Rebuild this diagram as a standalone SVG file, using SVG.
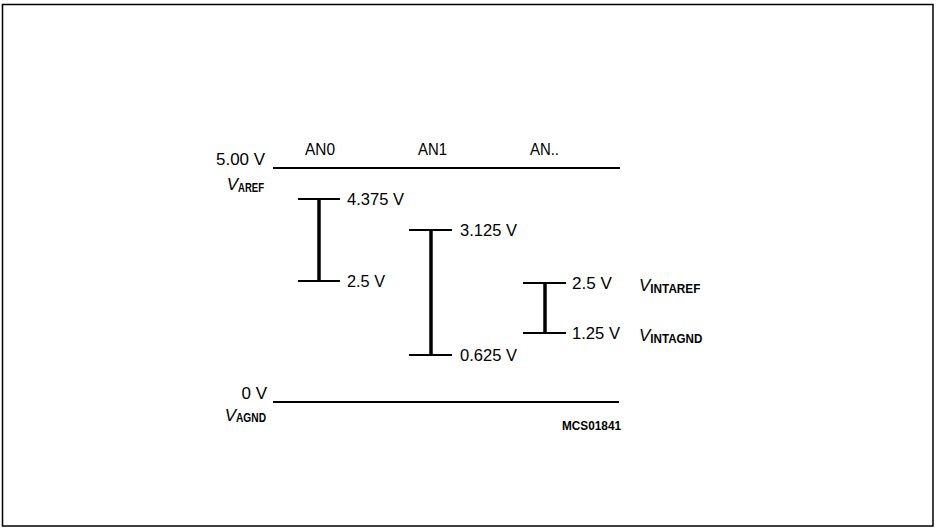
<svg xmlns="http://www.w3.org/2000/svg" width="936" height="530" viewBox="0 0 936 530">
<style>
text{font-family:"Liberation Sans",Arial,sans-serif;fill:#000}
.t{font-size:17px}
.v{font-size:17px;font-style:italic}
.s{font-size:13px;font-weight:bold;font-style:normal}
.id{font-size:13px;font-weight:bold}
.rail{stroke:#000;stroke-width:2;fill:none}
.tick{stroke:#000;stroke-width:2;fill:none}
.bar{stroke:#000;stroke-width:3.5;fill:none}
</style>
<rect x="2.5" y="4.5" width="930.5" height="521.5" fill="#fff" stroke="#000" stroke-width="1.5"/>
<g id="connectors">
<line class="rail" x1="273" y1="168" x2="620" y2="168"/>
<line class="rail" x1="273" y1="402" x2="619" y2="402"/>
</g>
<g id="vref-labels">
<text class="t" x="265" y="165" text-anchor="end" textLength="49" lengthAdjust="spacingAndGlyphs">5.00 V</text>
<text class="v" x="264" y="190" text-anchor="end">V<tspan class="s" dy="2" textLength="26" lengthAdjust="spacingAndGlyphs">AREF</tspan></text>
<text class="t" x="267" y="399" text-anchor="end">0 V</text>
<text class="v" x="266" y="421" text-anchor="end">V<tspan class="s" dy="1" textLength="30" lengthAdjust="spacingAndGlyphs">AGND</tspan></text>
</g>
<g id="AN0">
<text class="t" x="305" y="155" textLength="30" lengthAdjust="spacingAndGlyphs">AN0</text>
<line class="tick" x1="298" y1="199" x2="340" y2="199"/>
<line class="tick" x1="298" y1="281" x2="340" y2="281"/>
<line class="bar" x1="319" y1="199" x2="319" y2="281"/>
<text class="t" x="347" y="205" textLength="57" lengthAdjust="spacingAndGlyphs">4.375 V</text>
<text class="t" x="347" y="287" textLength="38" lengthAdjust="spacingAndGlyphs">2.5 V</text>
</g>
<g id="AN1">
<text class="t" x="418" y="155" textLength="29" lengthAdjust="spacingAndGlyphs">AN1</text>
<line class="tick" x1="409" y1="230" x2="452" y2="230"/>
<line class="tick" x1="409" y1="355" x2="452" y2="355"/>
<line class="bar" x1="431" y1="230" x2="431" y2="355"/>
<text class="t" x="460" y="236" textLength="57" lengthAdjust="spacingAndGlyphs">3.125 V</text>
<text class="t" x="460" y="361" textLength="57" lengthAdjust="spacingAndGlyphs">0.625 V</text>
</g>
<g id="ANx">
<text class="t" x="530" y="155" textLength="29" lengthAdjust="spacingAndGlyphs">AN..</text>
<line class="tick" x1="523" y1="283" x2="566" y2="283"/>
<line class="tick" x1="523" y1="333" x2="566" y2="333"/>
<line class="bar" x1="545" y1="283" x2="545" y2="333"/>
<text class="t" x="572" y="289" textLength="40" lengthAdjust="spacingAndGlyphs">2.5 V</text>
<text class="t" x="572" y="339" textLength="48" lengthAdjust="spacingAndGlyphs">1.25 V</text>
<text class="v" x="639" y="291">V<tspan class="s" dy="2" textLength="50" lengthAdjust="spacingAndGlyphs">INTAREF</tspan></text>
<text class="v" x="639" y="341">V<tspan class="s" dy="2" textLength="52" lengthAdjust="spacingAndGlyphs">INTAGND</tspan></text>
</g>
<g id="figure-id">
<text class="id" x="621" y="430" text-anchor="end" textLength="59" lengthAdjust="spacingAndGlyphs">MCS01841</text>
</g>
</svg>
